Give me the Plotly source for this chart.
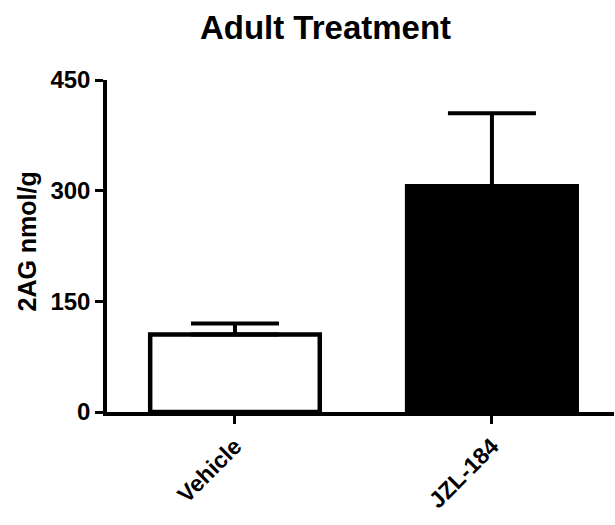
import plotly.graph_objects as go

categories = ["Vehicle", "JZL-184"]
means = [105, 306]
errors_up = [15, 99]
fill_colors = ["white", "black"]
y_ticks = [0, 150, 300, 450]

FONT = "Liberation Sans, Arial, sans-serif"

fig = go.Figure()
fig.add_trace(go.Bar(
    x=[0, 1],
    y=means,
    width=0.66,
    marker=dict(color=fill_colors, line=dict(color="black", width=4.5)),
    error_y=dict(type="data", symmetric=False, array=errors_up, arrayminus=[0, 0],
                 color="black", thickness=4, width=44),
    showlegend=False,
))

fig.update_layout(
    width=615, height=525,
    margin=dict(l=107, r=1, t=80, b=113),
    plot_bgcolor="white", paper_bgcolor="white",
    font=dict(family=FONT, color="black"),
    title=dict(text="<b>Adult Treatment</b>", x=325.5/615, xanchor="center", xref="container",
               y=1 - 27/525, yanchor="middle", yref="container",
               font=dict(size=33, family=FONT, color="black")),
    xaxis=dict(range=[-0.498, 1.475], tickmode="array", tickvals=[0, 1],
               ticktext=["<b>%s</b>" % c for c in categories],
               tickangle=-45, ticks="outside", ticklen=8, tickwidth=3, tickcolor="black",
               showline=True, linecolor="black", linewidth=3.5, showgrid=False, zeroline=False,
               tickfont=dict(size=23, family=FONT, color="black")),
    yaxis=dict(range=[0, 450], tickmode="array", tickvals=y_ticks,
               ticktext=["<b>%d</b>" % v for v in y_ticks],
               ticks="outside", ticklen=8, tickwidth=3, tickcolor="black",
               showline=True, linecolor="black", linewidth=3.5, showgrid=False, zeroline=False,
               tickfont=dict(size=24, family=FONT, color="black")),
    annotations=[dict(text="<b>2AG nmol/g</b>", textangle=-90, xref="paper", yref="paper",
                      x=(26 - 107) / 507, y=(412 - 241.5) / 332, xanchor="center", yanchor="middle",
                      showarrow=False, font=dict(size=25, family=FONT, color="black"))],
)

fig.write_html("out.html")
